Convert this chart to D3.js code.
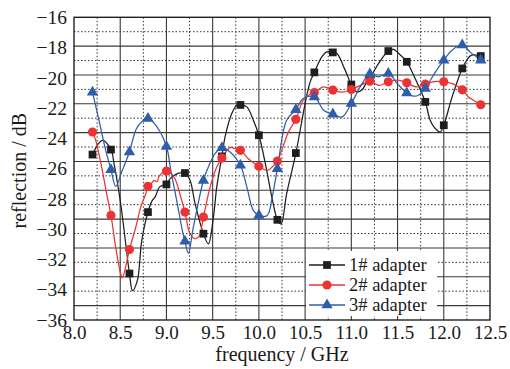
<!DOCTYPE html>
<html>
<head>
<meta charset="utf-8">
<script src="https://cdn.jsdelivr.net/npm/d3@7"></script>
<style>
body { margin: 0; background: #fff; }
text { font-family: "Liberation Serif", "Times New Roman", serif; fill: #1a1a1a; }
</style>
</head>
<body>
<div id="chart"></div>
<script>
const xTicks = [8.0, 8.5, 9.0, 9.5, 10.0, 10.5, 11.0, 11.5, 12.0, 12.5];
const yTicks = [-36, -34, -32, -30, -28, -26, -24, -22, -20, -18, -16];
const seriesNames = ["1# adapter", "2# adapter", "3# adapter"];

const markerFreqs = [8.2, 8.4, 8.6, 8.8, 9.0, 9.2, 9.4, 9.6, 9.8, 10.0, 10.2,
    10.4, 10.6, 10.8, 11.0, 11.2, 11.4, 11.6, 11.8, 12.0, 12.2, 12.4];

const adapter1Markers = [-25.07, -24.74, -32.93, -28.87, -27.04, -26.29, -30.3, -25.19, -21.79, -23.79, -29.38,
    -24.97, -19.64, -18.32, -20.44, -20.04, -18.23, -18.94, -21.59, -23.13, -19.38, -18.56];
const adapter2Markers = [-23.58, -29.09, -31.34, -27.17, -26.16, -28.87, -29.2, -25.3, -24.79, -25.85, -25.5,
    -22.74, -20.97, -20.81, -20.77, -20.22, -20.26, -20.33, -20.42, -20.26, -20.79, -21.78];
const adapter3Markers = [-20.95, -26.07, -24.9, -22.69, -24.54, -30.8, -26.78, -24.62, -25.78, -29.09, -26.0,
    -22.1, -21.26, -22.4, -21.7, -19.75, -19.71, -21.0, -20.7, -18.83, -17.83, -18.83];

const adapter1Line = [
    [8.2, -25.07], [8.306, -24.13], [8.4, -24.74], [8.433, -25.67], [8.505, -28.32], [8.6, -32.93],
    [8.633, -34.06], [8.685, -33.4], [8.733, -30.75], [8.8, -28.87], [8.847, -28.1], [8.877, -27.88],
    [8.931, -27.17], [9.0, -27.04], [9.04, -26.66], [9.125, -26.31], [9.2, -26.29], [9.255, -26.77],
    [9.31, -28.32], [9.4, -30.3], [9.453, -30.97], [9.508, -29.2], [9.544, -27.22], [9.6, -25.19],
    [9.634, -23.9], [9.707, -22.36], [9.761, -21.81], [9.8, -21.79], [9.87, -21.92], [9.94, -22.8],
    [10.0, -23.79], [10.07, -25.67], [10.14, -27.88], [10.2, -29.38], [10.24, -29.66], [10.3, -27.66],
    [10.4, -24.97], [10.5, -21.7], [10.554, -20.28], [10.6, -19.64], [10.68, -18.61], [10.735, -18.28],
    [10.8, -18.32], [10.843, -18.38], [10.933, -19.49], [11.0, -20.44], [11.06, -20.93], [11.114, -20.81],
    [11.168, -20.26], [11.2, -20.04], [11.29, -19.09], [11.4, -18.23], [11.456, -18.12], [11.51, -18.38],
    [11.6, -18.94], [11.69, -20.04], [11.8, -21.59], [11.853, -22.8], [11.907, -23.35], [11.961, -23.58],
    [12.0, -23.13], [12.09, -21.26], [12.2, -19.38], [12.25, -18.83], [12.3, -18.5], [12.4, -18.56]
];
const adapter2Line = [
    [8.2, -23.58], [8.235, -24.13], [8.306, -26.11], [8.36, -27.88], [8.4, -29.09], [8.451, -31.19],
    [8.505, -32.95], [8.523, -33.22], [8.6, -31.34], [8.668, -29.87], [8.722, -28.54], [8.776, -27.66],
    [8.8, -27.17], [8.84, -26.95], [8.866, -26.77], [8.9, -26.85], [8.92, -26.51], [9.0, -26.16],
    [9.082, -26.56], [9.155, -27.88], [9.2, -28.87], [9.255, -30.3], [9.31, -30.62], [9.352, -30.48],
    [9.4, -29.2], [9.472, -27.22], [9.544, -25.89], [9.6, -25.3], [9.688, -24.61], [9.742, -24.68],
    [9.8, -24.79], [9.886, -25.34], [10.0, -25.85], [10.09, -26.11], [10.144, -25.89], [10.2, -25.5],
    [10.32, -23.58], [10.4, -22.74], [10.48, -21.48], [10.554, -21.08], [10.6, -20.97], [10.7, -20.6],
    [10.8, -20.81], [10.9, -20.95], [11.0, -20.77], [11.1, -20.5], [11.2, -20.22], [11.3, -20.5],
    [11.4, -20.26], [11.5, -20.15], [11.6, -20.33], [11.7, -20.6], [11.8, -20.42], [11.9, -20.25],
    [12.0, -20.26], [12.1, -20.4], [12.2, -20.79], [12.267, -21.26], [12.32, -21.48], [12.4, -21.78]
];
const adapter3Line = [
    [8.2, -20.95], [8.27, -22.8], [8.343, -24.79], [8.4, -26.07], [8.451, -27.17], [8.523, -26.11],
    [8.6, -24.9], [8.685, -23.25], [8.8, -22.69], [8.884, -23.13], [9.0, -24.54], [9.047, -26.11],
    [9.118, -28.32], [9.172, -30.09], [9.2, -30.8], [9.237, -31.59], [9.291, -29.87], [9.4, -26.78],
    [9.453, -25.89], [9.526, -25.0], [9.6, -24.62], [9.688, -24.9], [9.8, -25.78], [9.87, -27.22],
    [9.94, -28.76], [10.0, -29.09], [10.09, -29.09], [10.144, -27.88], [10.2, -26.0], [10.3, -22.8],
    [10.4, -22.1], [10.48, -21.36], [10.6, -21.26], [10.7, -22.14], [10.8, -22.4], [10.9, -22.58],
    [11.0, -21.7], [11.095, -20.6], [11.2, -19.75], [11.293, -19.93], [11.4, -19.71], [11.5, -20.4],
    [11.6, -21.0], [11.672, -21.21], [11.726, -21.15], [11.8, -20.7], [11.9, -19.7], [12.0, -18.83],
    [12.09, -18.17], [12.2, -17.83], [12.286, -18.3], [12.4, -18.83]
];

const series = [
    { name: seriesNames[0], line: adapter1Line, markers: adapter1Markers, color: "#1e1e1e", symbol: d3.symbolSquare, size: 60 },
    { name: seriesNames[1], line: adapter2Line, markers: adapter2Markers, color: "#ec3232", symbol: d3.symbolCircle, size: 66 },
    { name: seriesNames[2], line: adapter3Line, markers: adapter3Markers, color: "#2e5ea9", symbol: d3.symbolTriangle, size: 56 }
];

const width = 510;
const height = 369;
const plot = { left: 74, right: 490, top: 17.3, bottom: 320 };

const svg = d3.select("#chart").append("svg")
    .attr("width", width)
    .attr("height", height);

const xScale = d3.scaleLinear().domain([8.0, 12.5]).range([plot.left, plot.right]);
const yScale = d3.scaleLinear().domain([-36, -16]).range([plot.bottom, plot.top]);
// the printed grid runs on its own spacing (21 half cells from top to bottom)
const gridScale = d3.scaleLinear().domain([0, 21]).range([plot.top, plot.bottom]);

// grid
const grid = svg.append("g");
const vMinor = d3.range(8.25, 12.5, 0.5);
const vMajor = d3.range(8.5, 12.5, 0.5);
grid.selectAll(".vminor").data(vMinor).enter().append("line")
    .attr("x1", d => xScale(d)).attr("x2", d => xScale(d))
    .attr("y1", plot.top).attr("y2", plot.bottom)
    .attr("stroke", "#333").attr("stroke-width", 1).attr("stroke-dasharray", "1.5,2");
grid.selectAll(".vmajor").data(vMajor).enter().append("line")
    .attr("x1", d => xScale(d)).attr("x2", d => xScale(d))
    .attr("y1", plot.top).attr("y2", plot.bottom)
    .attr("stroke", "#3a3a3a").attr("stroke-width", 1.1);
grid.selectAll(".hminor").data(d3.range(1, 20, 2)).enter().append("line")
    .attr("x1", plot.left).attr("x2", plot.right)
    .attr("y1", d => gridScale(d)).attr("y2", d => gridScale(d))
    .attr("stroke", "#333").attr("stroke-width", 1).attr("stroke-dasharray", "1.5,2");
grid.selectAll(".hmajor").data(d3.range(2, 21, 2)).enter().append("line")
    .attr("x1", plot.left).attr("x2", plot.right)
    .attr("y1", d => gridScale(d)).attr("y2", d => gridScale(d))
    .attr("stroke", "#3a3a3a").attr("stroke-width", 1.1);

// curves
const line = d3.line()
    .x(d => xScale(d[0]))
    .y(d => yScale(d[1]))
    .curve(d3.curveCatmullRom.alpha(0.5));

series.forEach(s => {
    svg.append("path")
        .datum(s.line)
        .attr("fill", "none")
        .attr("stroke", s.color)
        .attr("stroke-width", 1.25)
        .attr("d", line);
});

series.forEach(s => {
    svg.selectAll(null)
        .data(s.markers)
        .enter().append("path")
        .attr("transform", (d, i) => `translate(${xScale(markerFreqs[i])},${yScale(d)})`)
        .attr("d", d3.symbol().type(s.symbol).size(s.size))
        .attr("fill", s.color);
});

// frame
svg.append("rect")
    .attr("x", plot.left).attr("y", plot.top)
    .attr("width", plot.right - plot.left).attr("height", plot.bottom - plot.top)
    .attr("fill", "none").attr("stroke", "#222").attr("stroke-width", 1.4);

// axes
const xAxis = svg.append("g")
    .attr("transform", `translate(0,${plot.bottom})`)
    .call(d3.axisBottom(xScale).tickValues(xTicks).tickFormat(d3.format(".1f")).tickSize(0).tickPadding(6));
xAxis.select(".domain").remove();
xAxis.selectAll("text").style("font-size", "19px").attr("fill", "#1a1a1a");

const yAxis = svg.append("g")
    .attr("transform", `translate(${plot.left},0)`)
    .call(d3.axisLeft(yScale).tickValues(yTicks).tickFormat(d3.format("d")).tickSize(0).tickPadding(7));
yAxis.select(".domain").remove();
yAxis.selectAll("text").style("font-size", "19.5px").attr("fill", "#1a1a1a");

svg.append("text")
    .attr("x", (plot.left + plot.right) / 2)
    .attr("y", 361)
    .attr("text-anchor", "middle")
    .style("font-size", "20px")
    .text("frequency / GHz");

svg.append("text")
    .attr("transform", `translate(26,${(plot.top + plot.bottom) / 2 + 2}) rotate(-90)`)
    .attr("text-anchor", "middle")
    .style("font-size", "20px")
    .text("reflection / dB");

// legend
const legend = svg.append("g");
legend.append("rect")
    .attr("x", 306).attr("y", 251)
    .attr("width", 131).attr("height", 65)
    .attr("fill", "#fff");
series.forEach((s, i) => {
    const ly = 265 + i * 20;
    legend.append("line")
        .attr("x1", 309).attr("x2", 345)
        .attr("y1", ly).attr("y2", ly)
        .attr("stroke", s.color).attr("stroke-width", 1.3);
    legend.append("path")
        .attr("transform", `translate(327,${ly})`)
        .attr("d", d3.symbol().type(s.symbol).size(s.size))
        .attr("fill", s.color);
    legend.append("text")
        .attr("x", 349).attr("y", ly)
        .attr("dy", "0.35em")
        .style("font-size", "18.5px")
        .text(s.name);
});
</script>
</body>
</html>
